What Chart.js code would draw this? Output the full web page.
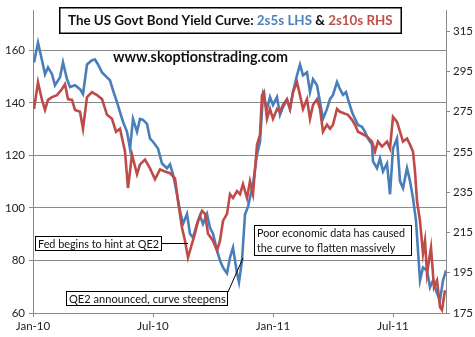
<!DOCTYPE html>
<html>
<head>
<meta charset="utf-8">
<title>US Govt Bond Yield Curve</title>
<script src="https://cdn.jsdelivr.net/npm/chart.js@4.4.1/dist/chart.umd.min.js"></script>
<style>
  html, body { margin: 0; padding: 0; background: #fff; }
  #wrap { width: 475px; height: 337px; }
</style>
</head>
<body>
<div id="wrap"><canvas id="curveChart" width="475" height="337"></canvas></div>
<script>
// months since Jan-2010 on the x axis
const monthTicks = [0, 6, 12, 18];
const monthTickLabels = ['Jan-10', 'Jul-10', 'Jan-11', 'Jul-11'];
const lhsTicks = [60, 80, 100, 120, 140, 160];
const rhsTicks = [175, 195, 215, 235, 255, 275, 295, 315];

// 2s5s spread, bp (left axis)
const months2s5s = [0.05, 0.25, 0.45, 0.6, 0.75, 0.95, 1.1, 1.35, 1.5, 1.7, 1.85, 2.1, 2.35, 2.5, 2.7, 2.95, 3.1, 3.25,
  3.45, 3.7, 3.85, 4.0, 4.2, 4.35, 4.5, 4.7, 4.85, 5.0, 5.2, 5.35, 5.5, 5.7, 5.85, 6.0, 6.25, 6.45, 6.7, 6.85, 7.0,
  7.2, 7.35, 7.5, 7.7, 7.85, 8.0, 8.2, 8.35, 8.5, 8.7, 8.85, 9.0, 9.2, 9.35, 9.5, 9.7, 9.85, 10.0, 10.2, 10.3, 10.45,
  10.6, 10.75, 11.0, 11.2, 11.35, 11.5, 11.7, 11.85, 12.0, 12.2, 12.35, 12.5, 12.7, 12.85, 13.0, 13.2, 13.35, 13.5,
  13.7, 13.85, 14.0, 14.2, 14.35, 14.5, 14.7, 14.85, 15.0, 15.2, 15.35, 15.5, 15.65, 15.75, 15.95, 16.1, 16.25, 16.45,
  16.6, 16.75, 16.95, 17.0, 17.2, 17.35, 17.5, 17.7, 17.85, 18.0, 18.2, 18.35, 18.5, 18.7, 18.85, 19.0, 19.15, 19.25,
  19.35, 19.5, 19.7, 19.85, 20.0, 20.2, 20.35, 20.5, 20.65];
const spread2s5s = [155.4, 162.9, 156.2, 150.9, 153.5, 150.9, 146.7, 149.7, 155.4, 149.0, 146.0, 146.7, 145.2, 143.3,
  154.6, 156.2, 156.5, 154.6, 151.6, 149.7, 148.6, 144.8, 140.3, 136.5, 132.8, 129.0, 122.6, 133.9, 129.0, 133.9,
  133.5, 132.0, 126.4, 125.2, 122.6, 116.9, 115.1, 116.6, 112.8, 105.2, 98.8, 93.9, 97.7, 90.2, 88.7, 93.9, 97.0,
  93.9, 97.7, 92.4, 90.2, 83.8, 80.0, 77.3, 75.1, 81.1, 84.9, 75.1, 71.7, 80.0, 97.5, 100.5, 109.0, 120.3, 125.2,
  143.0, 137.7, 142.2, 139.2, 142.2, 135.4, 138.4, 141.1, 137.7, 144.1, 150.5, 154.6, 150.5, 151.6, 144.1, 149.0,
  146.7, 140.3, 133.9, 137.7, 141.4, 143.0, 147.9, 145.2, 143.0, 144.1, 141.4, 136.5, 133.9, 131.6, 130.9, 129.0,
  126.4, 124.1, 117.7, 115.1, 118.8, 113.9, 116.9, 105.2, 122.6, 126.4, 110.2, 107.5, 115.1, 110.2, 103.7, 95.1,
  83.8, 72.4, 77.3, 76.2, 69.8, 72.4, 67.5, 64.9, 72.4, 76.2];

// 2s10s spread, bp (right axis)
const months2s10s = [0.05, 0.25, 0.45, 0.6, 0.75, 0.95, 1.2, 1.45, 1.6, 1.75, 1.95, 2.1, 2.35, 2.5, 2.7, 2.95, 3.2,
  3.45, 3.7, 3.95, 4.15, 4.35, 4.6, 4.75, 4.95, 5.2, 5.35, 5.6, 5.85, 6.1, 6.35, 6.6, 6.85, 7.1, 7.25, 7.45, 7.6,
  7.75, 7.95, 8.1, 8.25, 8.45, 8.6, 8.75, 9.0, 9.2, 9.35, 9.5, 9.7, 9.85, 10.0, 10.2, 10.35, 10.5, 10.7, 10.85,
  11.0, 11.2, 11.35, 11.45, 11.55, 11.7, 11.85, 12.0, 12.2, 12.35, 12.5, 12.7, 12.85, 13.0, 13.2, 13.35, 13.5, 13.7,
  13.85, 14.0, 14.2, 14.35, 14.5, 14.7, 14.85, 15.0, 15.2, 15.35, 15.6, 15.75, 15.95, 16.1, 16.25, 16.45, 16.7,
  16.95, 17.1, 17.25, 17.45, 17.7, 17.85, 18.0, 18.2, 18.35, 18.5, 18.7, 18.85, 19.0, 19.1, 19.2, 19.35, 19.5,
  19.6, 19.7, 19.9, 20.05, 20.2, 20.35, 20.45, 20.6];
const spread2s10s = [276.3, 289.6, 280.8, 275.8, 280.8, 282.2, 283.2, 286.2, 288.6, 281.2, 280.8, 275.8, 274.9,
  266.5, 282.2, 284.7, 283.2, 281.2, 273.4, 271.4, 265.0, 266.5, 255.2, 237.0, 253.7, 243.9, 248.8, 251.2, 246.8,
  241.4, 246.3, 245.3, 244.4, 241.9, 230.6, 217.3, 210.9, 202.5, 209.4, 214.4, 220.7, 225.7, 224.2, 214.4, 210.9,
  206.0, 210.9, 220.7, 224.2, 234.0, 232.1, 235.5, 234.0, 239.0, 232.1, 240.4, 234.0, 258.6, 263.5, 283.2, 284.7,
  271.4, 276.3, 271.4, 276.3, 274.9, 278.3, 281.2, 276.3, 284.7, 289.6, 283.2, 276.3, 281.2, 271.4, 278.3, 281.2,
  276.3, 265.0, 268.5, 266.5, 268.5, 276.3, 274.9, 273.9, 273.4, 270.9, 268.5, 265.0, 264.0, 262.6, 260.1, 255.2,
  260.1, 257.6, 260.1, 256.7, 272.4, 269.9, 265.0, 260.1, 261.6, 258.6, 255.2, 245.3, 230.6, 220.7, 204.5, 210.9,
  194.7, 207.5, 187.8, 191.2, 178.0, 176.5, 186.3];

const FONT = 'Lato, "Open Sans", sans-serif';
const blue = '#4a7ebb';
const red = '#be4b48';
const axisGrey = '#8a8a8a';

function pairs(xs, ys) {
  return xs.map((x, i) => ({ x: x, y: ys[i] }));
}

// draw text scaled so it spans the given width
function fitText(ctx, text, weight, width, size) {
  ctx.font = weight + ' ' + size + 'px ' + FONT;
  const w = ctx.measureText(text).width;
  const s = size * width / w;
  ctx.font = weight + ' ' + s.toFixed(2) + 'px ' + FONT;
  return s;
}

function noteBox(ctx, x, y, w, h, lines, textWidth) {
  ctx.save();
  ctx.fillStyle = '#fff';
  ctx.fillRect(x, y, w, h);
  ctx.strokeStyle = '#000';
  ctx.lineWidth = 1;
  ctx.strokeRect(x + 0.5, y + 0.5, w - 1, h - 1);
  ctx.fillStyle = '#111';
  ctx.textBaseline = 'middle';
  ctx.textAlign = 'left';
  fitText(ctx, lines[0], 'normal', textWidth, 12);
  const step = h / lines.length;
  lines.forEach((t, i) => ctx.fillText(t, x + 3, y + step * (i + 0.5) + 0.5));
  ctx.restore();
}

const overlayText = {
  id: 'overlayText',
  afterDraw(chart) {
    const ctx = chart.ctx;
    ctx.save();

    // title box
    ctx.fillStyle = '#fff';
    ctx.fillRect(59, 7, 343, 27);
    ctx.strokeStyle = '#000';
    ctx.lineWidth = 1.5;
    ctx.strokeRect(59.75, 7.75, 341.5, 25.5);

    const parts = [
      { t: 'The US Govt Bond Yield Curve: ', c: '#111' },
      { t: '2s5s LHS', c: '#4f81bd' },
      { t: ' & ', c: '#111' },
      { t: '2s10s RHS', c: '#c0504d' }
    ];
    fitText(ctx, parts.map(p => p.t).join(''), 'bold', 325, 14);
    ctx.textBaseline = 'middle';
    ctx.textAlign = 'left';
    let x = 68;
    parts.forEach(p => {
      ctx.fillStyle = p.c;
      ctx.fillText(p.t, x, 21);
      x += ctx.measureText(p.t).width;
    });

    // site name
    ctx.fillStyle = '#111';
    fitText(ctx, 'www.skoptionstrading.com', 'bold', 175, 14);
    ctx.fillText('www.skoptionstrading.com', 113, 57);

    // connectors
    ctx.strokeStyle = '#000';
    ctx.lineWidth = 1;
    ctx.beginPath();
    ctx.moveTo(161, 243.5);
    ctx.lineTo(188, 243.5);
    ctx.moveTo(228, 292);
    ctx.lineTo(243, 258);
    ctx.stroke();
    ctx.restore();

    noteBox(ctx, 35, 236, 127, 15, ['Fed begins to hint at QE2'], 121);
    noteBox(ctx, 66, 291, 162, 15, ['QE2 announced, curve steepens'], 157);
    noteBox(ctx, 254, 225, 158, 31, ['Poor economic data has caused', 'the curve to flatten massively'], 148);
  }
};

new Chart(document.getElementById('curveChart'), {
  type: 'line',
  data: {
    datasets: [
      {
        label: '2s10s RHS',
        data: pairs(months2s10s, spread2s10s),
        yAxisID: 'yRight',
        borderColor: red,
        borderWidth: 2.6,
        pointRadius: 0,
        tension: 0,
        order: 1
      },
      {
        label: '2s5s LHS',
        data: pairs(months2s5s, spread2s5s),
        yAxisID: 'yLeft',
        borderColor: blue,
        borderWidth: 2.6,
        pointRadius: 0,
        tension: 0,
        order: 2
      }
    ]
  },
  options: {
    responsive: false,
    devicePixelRatio: 1,
    animation: false,
    parsing: false,
    layout: { padding: { top: 8, left: 0, right: 0, bottom: 0 } },
    plugins: {
      legend: { display: false },
      tooltip: { enabled: false }
    },
    scales: {
      x: {
        type: 'linear',
        min: 0,
        max: 20.65,
        afterBuildTicks: s => { s.ticks = monthTicks.map(v => ({ value: v })); },
        afterFit: s => { s.height = 24; },
        ticks: {
          callback: (v) => monthTickLabels[monthTicks.indexOf(v)],
          font: { family: FONT, size: 11.5 },
          color: '#222',
          padding: 2,
          maxRotation: 0
        },
        grid: { drawOnChartArea: false, tickLength: 4, color: axisGrey },
        border: { color: axisGrey }
      },
      yLeft: {
        position: 'left',
        min: 60,
        max: 175,
        afterBuildTicks: s => { s.ticks = lhsTicks.map(v => ({ value: v })); },
        afterFit: s => { s.width = 33; },
        ticks: {
          font: { family: FONT, size: 11.5 },
          color: '#222',
          padding: 4
        },
        grid: { color: axisGrey, tickLength: 4 },
        border: { color: axisGrey }
      },
      yRight: {
        position: 'right',
        min: 175,
        max: 325,
        afterBuildTicks: s => { s.ticks = rhsTicks.map(v => ({ value: v })); },
        afterFit: s => { s.width = 29; },
        ticks: {
          font: { family: FONT, size: 11.5 },
          color: '#222',
          padding: 3
        },
        grid: { drawOnChartArea: false, color: axisGrey, tickLength: 4 },
        border: { color: axisGrey }
      }
    }
  },
  plugins: [overlayText]
});
</script>
</body>
</html>
